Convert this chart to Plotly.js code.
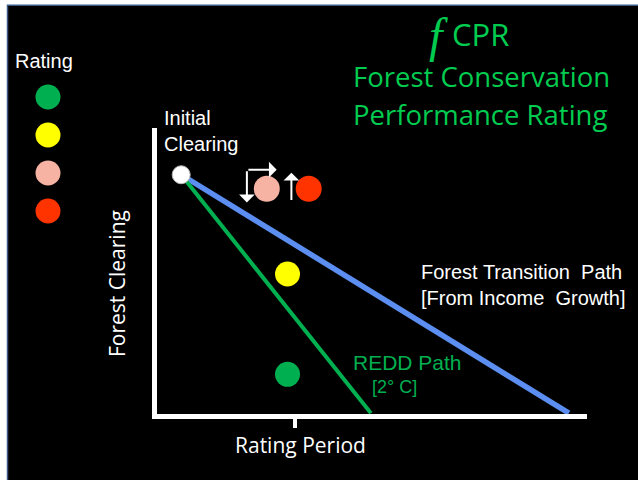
<!DOCTYPE html>
<html>
<head>
<meta charset="utf-8">
<script src="https://cdn.plot.ly/plotly-3.0.1.min.js"></script>
<style>html,body{margin:0;padding:0;background:#fff;}#chart{width:638px;height:480px;}</style>
</head>
<body>
<div id="chart"></div>
<script>
// ---- data (chart units: x = time, y = forest clearing) ----
const initialPointX = [0.61];
const initialPointY = [8.36];
const transitionPathX = [0.61, 9.58];
const transitionPathY = [8.36, 0];
const reddPathX = [0.61, 5.0];
const reddPathY = [8.36, 0];
const ratingNames = ['Green', 'Yellow', 'Pink', 'Red'];
const ratingColors = ['#00b050', '#ffff00', '#f6b2a2', '#ff3300'];
const ratingPointX = [3.07, 3.07, 2.59, 3.56];
const ratingPointY = [1.36, 4.88, 7.87, 7.87];
const ratingPointColors = ['#00b050', '#ffff00', '#f6b2a2', '#ff3300'];
const ratingPeriodTick = [3.24];
const legendSlots = [1, 2, 3, 4];
// arrows: [tailX, tailY, headX, headY]
const arrowDown = [2.13, 8.54, 2.13, 7.39];
const arrowRight = [2.13, 8.54, 2.82, 8.54];
const arrowUp = [3.16, 7.42, 3.16, 8.43];

const W = 638, H = 480;
const fx = p => p / W;
const fy = p => 1 - p / H;

const traces = [
  {x: transitionPathX, y: transitionPathY, mode: 'lines', line: {color: '#5b8ef0', width: 5.5}, hoverinfo: 'skip'},
  {x: reddPathX, y: reddPathY, mode: 'lines', line: {color: '#00b050', width: 4}, hoverinfo: 'skip'},
  {x: initialPointX, y: initialPointY, mode: 'markers', marker: {color: '#ffffff', size: 18, opacity: 1, line: {color: '#bbbbbb', width: 1}}},
  {x: ratingPointX, y: ratingPointY, mode: 'markers', text: ratingNames,
   marker: {color: ratingPointColors, size: [25, 25, 26, 26], opacity: 1, line: {width: 0}}},
  {x: legendSlots.map(() => 0), y: legendSlots, xaxis: 'x2', yaxis: 'y2', mode: 'markers', text: ratingNames,
   marker: {color: ratingColors, size: 25, opacity: 1, line: {width: 0}}}
];

function arrow(a) {
  return {x: a[2], y: a[3], ax: a[0], ay: a[1], xref: 'x', yref: 'y', axref: 'x', ayref: 'y',
    text: '', showarrow: true, arrowhead: 1, arrowsize: 1.3, arrowwidth: 2, arrowcolor: '#ffffff', standoff: 0, startstandoff: 0};
}

const white = '#ffffff';
const titleGreen = '#00cc50';
const annotations = [
  {x: fx(13), y: fy(61), xref: 'paper', yref: 'paper', xanchor: 'left', yanchor: 'middle', showarrow: false,
   text: 'Rating', font: {family: 'Liberation Sans, Arial', size: 20, color: white}},
  {x: fx(162), y: fy(131), xref: 'paper', yref: 'paper', xanchor: 'left', yanchor: 'middle', align: 'left', showarrow: false,
   text: 'Initial<br>Clearing', font: {family: 'Liberation Sans, Arial', size: 20, color: white}},
  {x: fx(419), y: fy(284.5), xref: 'paper', yref: 'paper', xanchor: 'left', yanchor: 'middle', align: 'left', showarrow: false,
   text: 'Forest Transition\u00a0 Path<br>[From Income\u00a0 Growth]', font: {family: 'Liberation Sans, Arial', size: 20, color: white}},
  {x: fx(351), y: fy(362), xref: 'paper', yref: 'paper', xanchor: 'left', yanchor: 'middle', showarrow: false,
   text: 'REDD Path', font: {family: 'Liberation Sans, Arial', size: 21, color: '#00b050'}},
  {x: fx(370), y: fy(387), xref: 'paper', yref: 'paper', xanchor: 'left', yanchor: 'middle', showarrow: false,
   text: '[2\u00b0 C]', font: {family: 'Liberation Sans, Arial', size: 18, color: '#00b050'}},
  {x: fx(300), y: fy(445), xref: 'paper', yref: 'paper', xanchor: 'center', yanchor: 'middle', showarrow: false,
   text: 'Rating Period', font: {family: 'Open Sans', size: 21, color: white}},
  {x: fx(117), y: fy(284), xref: 'paper', yref: 'paper', xanchor: 'center', yanchor: 'middle', showarrow: false, textangle: -90,
   text: 'Forest Clearing', font: {family: 'Open Sans', size: 21, color: white}},
  {x: fx(438), y: fy(36), xref: 'paper', yref: 'paper', xanchor: 'center', yanchor: 'middle', showarrow: false,
   text: 'f', font: {family: 'Liberation Serif, serif', size: 48, color: titleGreen, style: 'italic'}},
  {x: fx(480), y: fy(33.5), xref: 'paper', yref: 'paper', xanchor: 'center', yanchor: 'middle', showarrow: false,
   text: 'CPR', font: {family: 'Open Sans', size: 31, color: titleGreen}},
  {x: fx(481), y: fy(76), xref: 'paper', yref: 'paper', xanchor: 'center', yanchor: 'middle', showarrow: false,
   text: 'Forest Conservation', font: {family: 'Open Sans', size: 27.5, color: titleGreen}},
  {x: fx(480), y: fy(114), xref: 'paper', yref: 'paper', xanchor: 'center', yanchor: 'middle', showarrow: false,
   text: 'Performance Rating', font: {family: 'Open Sans', size: 27.5, color: titleGreen}},
  arrow(arrowDown), arrow(arrowRight), arrow(arrowUp)
];

const layout = {
  width: W, height: H,
  margin: {l: 0, r: 0, t: 0, b: 0, pad: 0},
  paper_bgcolor: '#ffffff',
  plot_bgcolor: 'rgba(0,0,0,0)',
  showlegend: false,
  hovermode: false,
  xaxis: {domain: [fx(157), fx(587)], range: [0.05, 10], showgrid: false, zeroline: false,
    showline: true, linecolor: white, linewidth: 5,
    ticks: 'outside', tickvals: ratingPeriodTick, ticklen: 9, tickwidth: 4, tickcolor: white, showticklabels: false, fixedrange: true},
  yaxis: {domain: [1 - 414 / H, 1 - 128 / H], range: [-0.03, 10], showgrid: false, zeroline: false,
    showline: true, linecolor: white, linewidth: 5, ticks: '', showticklabels: false, fixedrange: true},
  xaxis2: {domain: [fx(30), fx(66)], range: [-1, 1], visible: false, anchor: 'y2', fixedrange: true},
  yaxis2: {domain: [1 - 230 / H, 1 - 78 / H], range: [4.5, 0.5], visible: false, anchor: 'x2', fixedrange: true},
  shapes: [
    {type: 'rect', xref: 'paper', yref: 'paper', x0: fx(7.5), x1: 1.02, y0: -0.02, y1: fy(5.3),
     fillcolor: '#000000', line: {color: '#3b5a85', width: 1.5}, layer: 'below'}
  ],
  annotations: annotations
};

Plotly.newPlot('chart', traces, layout, {displayModeBar: false, staticPlot: true});
</script>
</body>
</html>
